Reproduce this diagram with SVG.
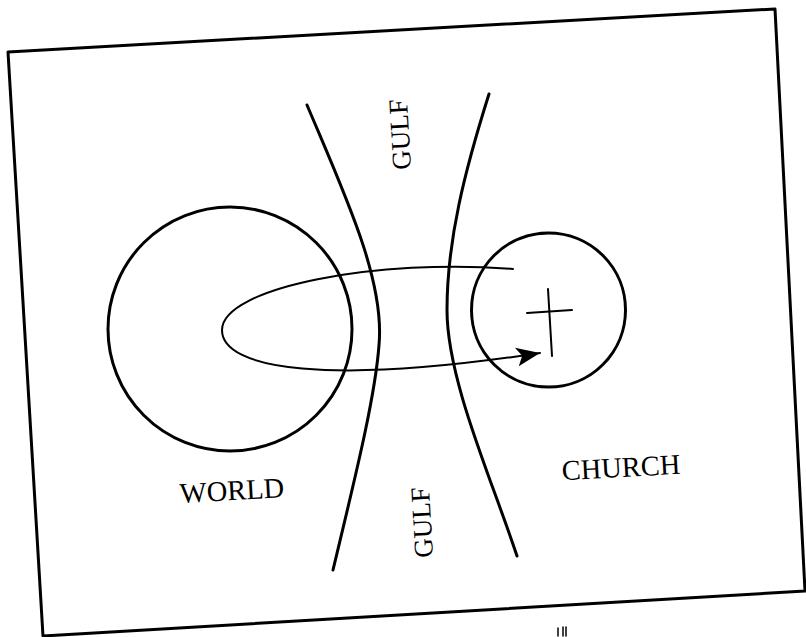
<svg xmlns="http://www.w3.org/2000/svg" width="806" height="637" viewBox="0 0 806 637">
  <style>
    .ln { fill: none; stroke: #000; stroke-linecap: round; stroke-linejoin: round; }
    .thick { stroke-width: 3; }
    .thin { stroke-width: 2; }
    .lbl { font-family: "Liberation Serif", "Times New Roman", serif; fill: #000; text-anchor: middle; }
  </style>
  <defs>
    <marker id="arrow" markerUnits="userSpaceOnUse" markerWidth="30" markerHeight="24" viewBox="-26 -12 30 24" refX="0" refY="0" orient="auto">
      <path d="M0,0 L-24,-9 L-18,0 L-23,10 Z" fill="#000"/>
    </marker>
  </defs>
  <rect width="806" height="637" fill="#fff"/>

  <g id="frame">
    <polygon class="ln thick" points="8,52 775,9 805,591 43,636"/>
    <g class="ln" stroke-width="1.5">
      <line x1="558" y1="628" x2="558" y2="636"/>
      <line x1="563" y1="627" x2="563" y2="636"/>
      <line x1="566" y1="627" x2="566" y2="636"/>
    </g>
  </g>

  <g id="world">
    <circle class="ln thick" cx="230" cy="329" r="122"/>
    <text class="lbl" font-size="28.5" transform="translate(232.5,500) rotate(-3.2)">WORLD</text>
  </g>

  <g id="church">
    <circle class="ln thick" cx="548.5" cy="310" r="77"/>
    <g id="cross" class="ln thin">
      <line x1="548" y1="289" x2="552" y2="356"/>
      <line x1="527" y1="313" x2="572" y2="310"/>
    </g>
    <text class="lbl" font-size="28.5" transform="translate(621.5,477) rotate(-3.2)">CHURCH</text>
  </g>

  <g id="gulf-top">
    <path class="ln thick" d="M307,105 C345,195 385,280 379,345 C375,400 352,490 333,570"/>
    <text class="lbl" font-size="27" transform="translate(409,134) rotate(-93.2)">GULF</text>
  </g>

  <g id="gulf-bottom">
    <path class="ln thick" d="M489,94 C465,170 447,240 447,310 C447,380 492,480 517,556"/>
    <text class="lbl" font-size="27" transform="translate(431,522) rotate(-93.2)">GULF</text>
  </g>

  <g id="connectors">
    <path class="ln thin" d="M513,269 C380,258 222,287 222,330 C222,370 330,385 540,353" marker-end="url(#arrow)"/>
  </g>
</svg>
